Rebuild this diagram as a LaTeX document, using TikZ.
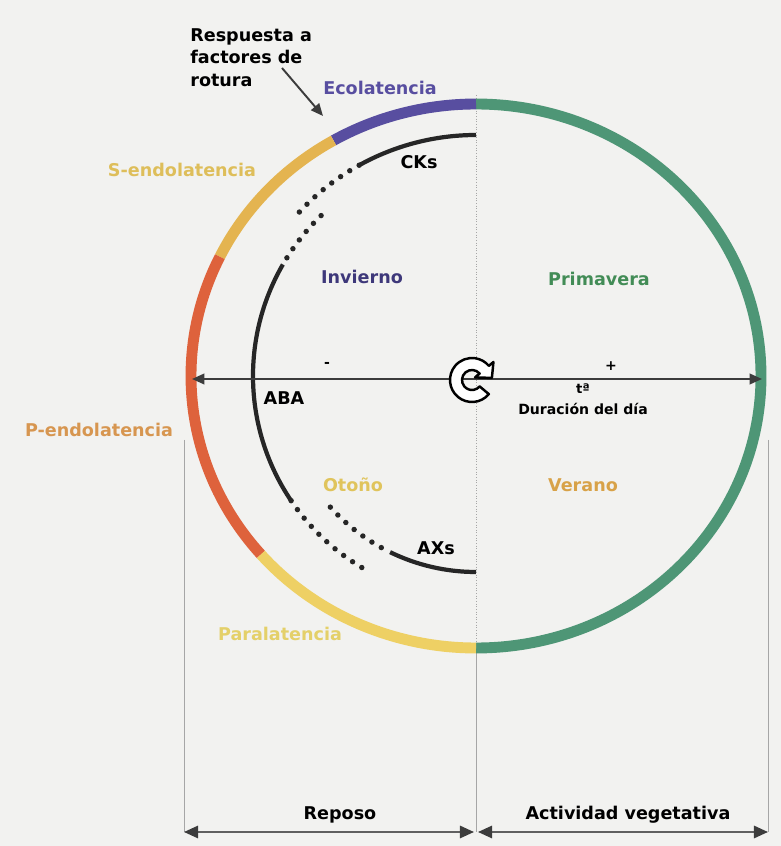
\documentclass[tikz,border=0pt]{standalone}
\usepackage{fontspec}
\setmainfont{DejaVu Sans}
\usepackage{tikz}
\usetikzlibrary{positioning,arrows.meta,calc}
\definecolor{fondo}{RGB}{242,242,240}
\definecolor{verde}{RGB}{78,150,118}
\definecolor{morado}{RGB}{88,78,160}
\definecolor{ocre}{RGB}{228,180,80}
\definecolor{rojizo}{RGB}{222,98,60}
\definecolor{amarillo}{RGB}{238,208,100}
\definecolor{gris}{RGB}{60,60,60}
\definecolor{txtsendo}{RGB}{222,190,90}
\definecolor{txtpendo}{RGB}{215,150,80}
\definecolor{txtpara}{RGB}{228,208,105}
\definecolor{txtinv}{RGB}{62,56,122}
\definecolor{txtprim}{RGB}{66,140,86}
\definecolor{txtoto}{RGB}{224,196,92}
\definecolor{txtver}{RGB}{216,162,72}
\newcommand{\fsz}[1]{\bfseries\fontsize{#1}{13}\selectfont}

\begin{document}
\begin{tikzpicture}[x=0.02cm, y=0.02cm,
    etq/.style={font=\fsz{10}, inner sep=0pt},
    anillo/.style={line width=6.2pt},
    curva/.style={line width=2.4pt, black!85},
    puntos/.style={line width=3.1pt, black!85, line cap=round,
                   dash pattern=on 0pt off 6.2pt},
    flecha/.style={-{Triangle[length=7pt,width=6pt]}, gris, line width=1.1pt},
    eje/.style={{Triangle[length=7pt,width=6pt]}-{Triangle[length=7pt,width=6pt]},
                gris, line width=1.1pt},
    cota/.style={{Triangle[length=8pt,width=7pt,color=gris]}-{Triangle[length=8pt,width=7pt,color=gris]},
                 gray!75!black, line width=1.2pt},
    guia/.style={gray!70, line width=0.5pt}
  ]
  \fill[fondo] (0,0) rectangle (781,846);
  \useasboundingbox (0,0) rectangle (781,846);
  \coordinate (C) at (476,470);

  \coordinate (arriba) at (476,751);
  \coordinate (abajo) at (476,198);
  \coordinate (li) at (184,406);
  \coordinate (ld) at (768,406);
  \coordinate (ri) at (184,14);
  \coordinate (rm) at (474,14);
  \coordinate (am) at (478,14);
  \coordinate (ad) at (768,14);
  \coordinate (pie) at (476,14);
  \draw[guia, densely dotted] (arriba) -- (abajo);
  \draw[guia] (abajo) -- (pie);
  \draw[guia] (li) -- (ri);
  \draw[guia] (ld) -- (ad);

  \foreach \a/\b/\c in {-90/90/verde, 90/120/morado, 120/154/ocre,
                        154/221/rojizo, 221/270/amarillo}
    \draw[anillo, \c] (C) ++(\a:285 and 272)
      arc[start angle=\a, end angle=\b, x radius=285, y radius=272];

  \draw[curva] (C) ++(90:241) arc[start angle=90, end angle=119, radius=241];
  \draw[puntos] (C) ++(119:241) arc[start angle=119, end angle=139, radius=241];
  \draw[puntos] (C) ++(134:223) arc[start angle=134, end angle=150, radius=223];
  \draw[curva] (C) ++(150:223) arc[start angle=150, end angle=214, radius=223];
  \draw[puntos] (C) ++(214:223) arc[start angle=214, end angle=240, radius=223];
  \draw[puntos] (C) ++(222:196) arc[start angle=222, end angle=244, radius=196];
  \draw[curva] (C) ++(244:196) arc[start angle=244, end angle=270, radius=196];

  \coordinate (oeste) at (192,467);
  \coordinate (este) at (762,467);
  \draw[eje] (oeste) -- (este);

  \begin{scope}[shift={(472,466)}]
    \filldraw[fill=white, draw=black, line width=1.4pt, line join=round]
      (-40:22) arc[start angle=-40, end angle=-320, radius=22]
      -- (40:28) -- (6:20) -- (40:4) -- (40:10)
      arc[start angle=40, end angle=320, radius=10] -- cycle;
  \end{scope}

  \node[etq, align=left, anchor=north west] (resp) at (190,818)
        {Respuesta a\\factores de\\rotura};
  \coordinate (salida) at (282,778);
  \coordinate (rotura) at (323,730);
  \draw[flecha] (salida) -- (rotura);

  \node[etq, text=morado] (eco) at (380,758) {Ecolatencia};
  \node[etq, text=txtsendo] (sendo) at (182,676) {S-endolatencia};
  \node[etq, text=txtpendo] (pendo) at (99,416) {P-endolatencia};
  \node[etq, text=txtpara] (para) at (280,212) {Paralatencia};
  \node[etq] (cks) at (419,684) {CKs};
  \node[etq] (aba) at (284,448) {ABA};
  \node[etq] (axs) at (436,298) {AXs};
  \node[etq, text=txtinv] (inv) at (362,569) {Invierno};
  \node[etq, text=txtprim] (prim) at (599,567) {Primavera};
  \node[etq, text=txtoto] (oto) at (353,361) {Otoño};
  \node[etq, text=txtver] (ver) at (583,361) {Verano};
  \node[etq, font=\fsz{8}] (menos) at (327,481) {-};
  \node[etq, font=\fsz{8}] (mas) at (611,480) {+};
  \node[etq, font=\fsz{7.5}] (temp) at (583,457) {tª};
  \node[etq, font=\fsz{8}, below=5pt of temp] (dur) {Duración del día};

  \node[etq] (rep) at (340,31) {Reposo};
  \node[etq] (act) at (628,31) {Actividad vegetativa};
  \draw[cota] (ri) -- (rm);
  \draw[cota] (am) -- (ad);
\end{tikzpicture}
\end{document}
